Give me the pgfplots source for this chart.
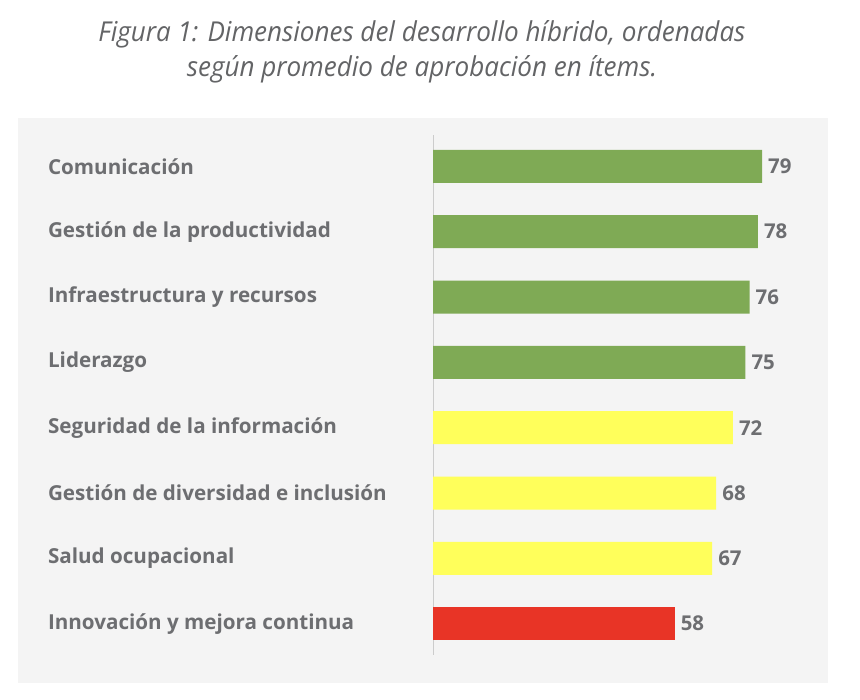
\documentclass[border=0pt]{standalone}
\usepackage{fontspec}
\setmainfont{Open Sans}
\newfontfamily\titlefont[FakeStretch=0.95]{Open Sans}
\usepackage{pgfplots}
\pgfplotsset{compat=1.18}
\definecolor{labelgray}{HTML}{6D6E71}
\definecolor{titlegray}{HTML}{636466}
\definecolor{panel}{HTML}{F4F4F4}
\definecolor{bgreen}{HTML}{7FAA55}
\definecolor{byellow}{HTML}{FFFF5B}
\definecolor{bred}{HTML}{E83426}
\begin{document}
\begin{tikzpicture}
\path[use as bounding box, fill=white] (0,0) rectangle (860bp,-700bp);
\fill[panel] (18bp,-118bp) rectangle (828bp,-683bp);
\node[anchor=base, text=titlegray, font=\titlefont\itshape\fontsize{27.5}{30}\selectfont, inner sep=0pt] at (422bp,-41bp) {Figura 1: Dimensiones del desarrollo híbrido, ordenadas};
\node[anchor=base, text=titlegray, font=\titlefont\itshape\fontsize{27.5}{30}\selectfont, inner sep=0pt] at (422bp,-76bp) {según promedio de aprobación en ítems.};
\begin{axis}[
  at={(433bp,-135bp)}, anchor=north west,
  scale only axis, width=395bp, height=520bp,
  xmin=0, xmax=94.84, ymin=-0.48, ymax=7.48, y dir=reverse,
  xbar, bar width=33bp, bar shift=0pt,
  axis x line=none, axis y line=left,
  axis line style={-, draw=black!20, line width=1bp},
  ytick={0,...,7},
  yticklabels={Comunicación, Gestión de la productividad, Infraestructura y recursos, Liderazgo, Seguridad de la información, Gestión de diversidad e inclusión, Salud ocupacional, Innovación y mejora continua},
  ytick style={draw=none},
  yticklabel style={anchor=west, inner sep=0pt, xshift=-383bp, font=\bfseries\fontsize{20.7}{24}\selectfont, text=labelgray},
  /pgf/number format/assume math mode=true,
  nodes near coords,
  nodes near coords style={font=\bfseries\fontsize{20.5}{24}\selectfont, text=labelgray, anchor=west, inner sep=6bp},
  clip=false,
]
\addplot[fill=bgreen, draw=none] coordinates {(79,0) (78,1) (76,2) (75,3)};
\addplot[fill=byellow, draw=none] coordinates {(72,4) (68,5) (67,6)};
\addplot[fill=bred, draw=none] coordinates {(58,7)};
\end{axis}
\end{tikzpicture}
\end{document}
